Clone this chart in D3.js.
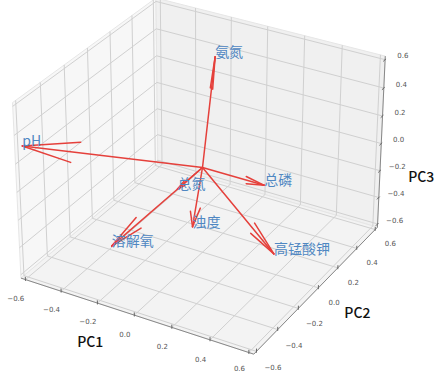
<!DOCTYPE html>
<html><head><meta charset="utf-8">
<script src="https://cdn.jsdelivr.net/npm/d3@7"></script>
<style>body{margin:0;background:#fff}svg{display:block}</style>
</head><body><svg id="chart" width="438" height="375"></svg>
<script>
const variables = ["pH","氨氮","总磷","高锰酸钾","溶解氧","浊度","总氮"];
const pc1 = [-0.60,-0.15, 0.33, 0.54,-0.13,-0.02, 0.00];
const pc2 = [-0.60, 0.38, 0.00,-0.29,-0.60,-0.06,-0.23];
const pc3 = [ 0.32, 0.50, 0.00,-0.20,-0.20,-0.40, 0.00];
const ticks = [-0.6,-0.4,-0.2,0.0,0.2,0.4,0.6];
const tickLabels = ["−0.6","−0.4","−0.2","0.0","0.2","0.4","0.6"];
const axisTitles = ["PC1","PC2","PC3"];

const svg = d3.select("#chart");
const lim = [-0.6, 0.6];
const pad = (lim[1]-lim[0])/48;
const lo = lim[0]-pad, hi = lim[1]+pad;
const elev = 30, azim = -60, dist = 10;
const aspect = [4,4,3];
const an = Math.hypot(...aspect);
const box = aspect.map(a => a*1.8294640721620434/an);
const sx = d3.scaleLinear().domain(lim).range([-box[0]/2, box[0]/2]);
const sy = d3.scaleLinear().domain(lim).range([-box[1]/2, box[1]/2]);
const sz = d3.scaleLinear().domain(lim).range([-box[2]/2, box[2]/2]);
const er = elev*Math.PI/180, ar = azim*Math.PI/180;
const nv = [Math.cos(er)*Math.cos(ar), Math.cos(er)*Math.sin(ar), Math.sin(er)];
const uv = [-Math.sin(ar), Math.cos(ar), 0];
const vv = [-Math.sin(er)*Math.cos(ar), -Math.sin(er)*Math.sin(ar), Math.cos(er)];
const cx = 202.5, cy = 167.5, k = 2240;
const screenX = d3.scaleLinear().domain([0,1]).range([cx, cx+k]);
const screenY = d3.scaleLinear().domain([0,1]).range([cy, cy-k]);
const dot = (a,b) => a[0]*b[0]+a[1]*b[1]+a[2]*b[2];
function proj(x,y,z){
  const P=[sx(x),sy(y),sz(z)];
  const d = dist - dot(nv,P);
  return [screenX(dot(uv,P)/d), screenY(dot(vv,P)/d)];
}
const line = d3.line();
const pl = pts => line(pts.map(p=>proj(...p)));

// panes
const g = svg.append("g");
const panes = [
  {pts:[[lo,lo,lo],[lo,hi,lo],[lo,hi,hi],[lo,lo,hi]], fill:"#f7f7f7"},
  {pts:[[lo,hi,lo],[hi,hi,lo],[hi,hi,hi],[lo,hi,hi]], fill:"#f0f0f0"},
  {pts:[[lo,lo,lo],[hi,lo,lo],[hi,hi,lo],[lo,hi,lo]], fill:"#f3f3f3"}
];
g.selectAll("path.pane").data(panes).join("path").attr("class","pane")
  .attr("d", d=>pl(d.pts)+"Z").attr("fill",d=>d.fill).attr("stroke","#e6e6e6").attr("stroke-width",1);

// grid
const grid = [];
ticks.forEach(t=>{
  grid.push([[t,lo,lo],[t,hi,lo],[t,hi,hi]]);
  grid.push([[hi,t,lo],[lo,t,lo],[lo,t,hi]]);
  grid.push([[lo,lo,t],[lo,hi,t],[hi,hi,t]]);
});
g.selectAll("path.grid").data(grid).join("path").attr("class","grid")
  .attr("d", pl).attr("fill","none").attr("stroke","#d0d0d0").attr("stroke-width",1);

// axis lines
const axes = [
  [[lo,lo,lo],[hi,lo,lo]],
  [[hi,lo,lo],[hi,hi,lo]],
  [[hi,hi,lo],[hi,hi,hi]]
];
g.selectAll("path.axis").data(axes).join("path").attr("class","axis")
  .attr("d", pl).attr("fill","none").attr("stroke","#888").attr("stroke-width",1);

// ticks
const tickLines = [];
ticks.forEach(t=>{
  tickLines.push([[t,lo,lo-0.01],[t,lo,lo+0.02]]);
  tickLines.push([[hi,t,lo-0.01],[hi,t,lo+0.02]]);
  tickLines.push([[hi,hi+0.01,t],[hi,hi-0.02,t]]);
});
g.selectAll("path.tick").data(tickLines).join("path").attr("class","tick")
  .attr("d", pl).attr("stroke","#666").attr("stroke-width",1);

const off = 0.085, offZ = 0.062;
const tl = [];
ticks.forEach((t,i)=>{
  tl.push({p:proj(t, lo-off, lo-off), s:tickLabels[i]});
  tl.push({p:proj(hi+off, t, lo-off), s:tickLabels[i]});
  tl.push({p:proj(hi+offZ, hi+offZ, t), s:tickLabels[i]});
});
g.selectAll("text.tl").data(tl).join("text").attr("class","tl")
  .attr("x",d=>d.p[0]).attr("y",d=>Math.min(d.p[1]-1, 369)).attr("text-anchor","middle").attr("dominant-baseline","central")
  .attr("font-family","DejaVu Sans").attr("font-size",7).attr("fill","#555").text(d=>d.s);

// axis titles
const titlePos = [
  {p:proj(0,lo,lo), dx:-44, dy:26, anchor:"middle"},
  {p:proj(hi,0,lo), dx:39, dy:24, anchor:"middle"},
  {p:proj(hi,hi,0), dx:27, dy:32, anchor:"start"}
];
g.selectAll("text.at").data(titlePos).join("text").attr("class","at")
  .attr("x",d=>d.p[0]+d.dx).attr("y",d=>d.p[1]+d.dy).attr("text-anchor",d=>d.anchor).attr("dominant-baseline","central")
  .attr("font-family","Noto Sans CJK SC, Noto Sans, sans-serif").attr("font-size",14).attr("font-weight",500).attr("fill","#111")
  .text((d,i)=>axisTitles[i]);

// arrows (quiver, arrow_length_ratio 0.3, 15 deg heads)
const ca = Math.cos(15*Math.PI/180), sa = Math.sin(15*Math.PI/180);
function headDirs(U){
  const [x,y] = U; const nxy = Math.hypot(x,y);
  const xp = nxy ? y/nxy : 0, yp = nxy ? -x/nxy : 1;
  const mul = (M,v)=>M.map(r=>dot(r,v));
  const Rp = [[ca+xp*xp*(1-ca), xp*yp*(1-ca), yp*sa],[yp*xp*(1-ca), ca+yp*yp*(1-ca), -xp*sa],[-yp*sa, xp*sa, ca]];
  const Rn = [[ca+xp*xp*(1-ca), xp*yp*(1-ca), -yp*sa],[yp*xp*(1-ca), ca+yp*yp*(1-ca), xp*sa],[yp*sa, -xp*sa, ca]];
  return [mul(Rp,U), mul(Rn,U)];
}
const arrows = [];
variables.forEach((v,i)=>{
  const U=[pc1[i],pc2[i],pc3[i]];
  arrows.push([[0,0,0],U]);
  headDirs(U).forEach(h=>arrows.push([U,[U[0]-0.3*h[0],U[1]-0.3*h[1],U[2]-0.3*h[2]]]));
});
const ga = svg.append("g");
ga.selectAll("path").data(arrows).join("path").attr("d",pl).attr("fill","none")
  .attr("stroke","#e5403b").attr("stroke-width",1.5).attr("stroke-linecap","round");
ga.selectAll("text").data(variables).join("text")
  .attr("x",(d,i)=>proj(pc1[i],pc2[i],pc3[i])[0]).attr("y",(d,i)=>proj(pc1[i],pc2[i],pc3[i])[1])
  .attr("font-family","Noto Sans CJK SC, sans-serif").attr("font-size",14).attr("fill","#4f87c2").text(d=>d);
</script></body></html>
